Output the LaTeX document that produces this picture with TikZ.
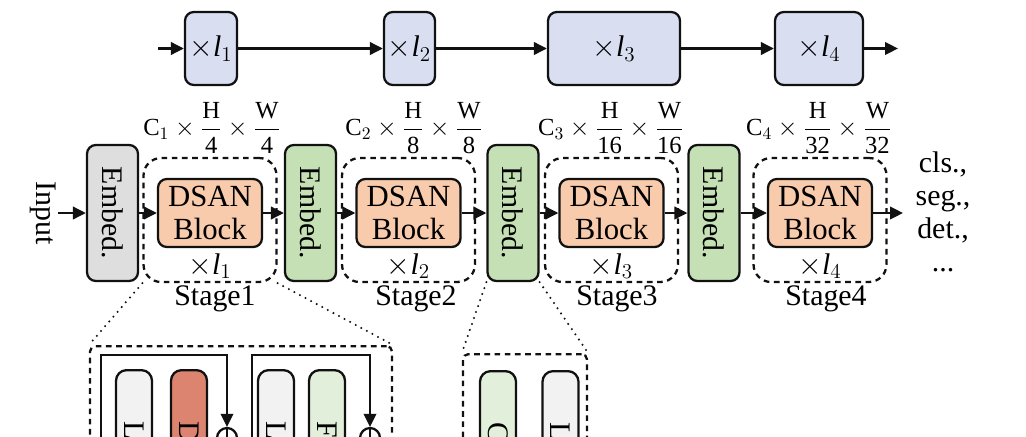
\documentclass[tikz,border=0pt]{standalone}
\usepackage{amsmath}
\usepackage{fontspec}
\setmainfont{Liberation Serif}
\usetikzlibrary{arrows.meta}
\definecolor{ink}{HTML}{111111}
\definecolor{repfill}{HTML}{D9DFF1}
\definecolor{embgray}{HTML}{DEDEDE}
\definecolor{embgreen}{HTML}{C5E0B4}
\definecolor{dsanfill}{HTML}{F8CBAD}
\definecolor{lngray}{HTML}{F2F2F2}
\definecolor{attnred}{HTML}{DD8471}
\definecolor{ffngreen}{HTML}{E2EFDA}
\newcommand{\reps}[1]{$\times$\textit{l}$_{#1}$}
\newcommand{\dims}[3]{$\text{C}_{#1}\times\dfrac{\text{H}}{\text{#2}}\times\dfrac{\text{W}}{\text{#3}}$}

\begin{document}
\begin{tikzpicture}[x=0.02cm, y=-0.02cm, font=\fontsize{17}{18.7}\selectfont, every node/.style={align=center},
    repbox/.style={draw=ink, line width=1.3pt, rounded corners=5pt, fill=repfill, minimum height=1.46cm, inner sep=0pt},
    embbox/.style={draw=ink, line width=1.3pt, rounded corners=5pt, minimum width=1.02cm, minimum height=2.72cm, inner sep=0pt},
    dsanbox/.style={draw=ink, line width=1.3pt, rounded corners=5pt, fill=dsanfill, minimum width=2.08cm, minimum height=1.36cm, inner sep=0pt, font=\fontsize{17.5}{19.3}\selectfont},
    stagebox/.style={draw=ink, line width=1.3pt, dash pattern=on 3.2pt off 2.6pt, rounded corners=10pt, minimum width=2.66cm, minimum height=2.48cm},
    zoombox/.style={draw=ink, line width=1.3pt, dash pattern=on 3.2pt off 2.6pt, rounded corners=3pt, anchor=north, minimum height=2.8cm},
    lowbox/.style={draw=ink, line width=1.3pt, rounded corners=6pt, minimum width=0.72cm, minimum height=3cm, anchor=north},
    lowtxt/.style={anchor=north, inner sep=0pt},
    replbl/.style={inner sep=1pt},
    addop/.style={draw=ink, line width=1.3pt, circle, minimum size=0.4cm, inner sep=0pt, fill=white,
      path picture={\draw[line width=1.3pt] (path picture bounding box.north) -- (path picture bounding box.south) (path picture bounding box.west) -- (path picture bounding box.east);}},
    flow/.style={-{Triangle[length=2.6mm,width=2.5mm]}, line width=1.4pt, draw=ink},
    zoomline/.style={line width=1.3pt, line cap=round, dash pattern=on 0pt off 3.6pt, draw=ink}]
  \useasboundingbox (0,0) rectangle (1026,436);
  \clip (0,0) rectangle (1026,436);

  \coordinate (topin) at (158,48.5);
  \coordinate (topout) at (898,48.5);
  \node[repbox, minimum width=1.04cm] (r1) at (211,48.5) {\reps{1}};
  \node[repbox, minimum width=1.02cm] (r2) at (409.5,48.5) {\reps{2}};
  \node[repbox, minimum width=2.64cm] (r3) at (614,48.5) {\reps{3}};
  \node[repbox, minimum width=1.76cm] (r4) at (819,48.5) {\reps{4}};
  \draw[flow] (topin) -- (r1);
  \draw[flow] (r1) -- (r2);
  \draw[flow] (r2) -- (r3);
  \draw[flow] (r3) -- (r4);
  \draw[flow] (r4) -- (topout);

  \node[font=\fontsize{14}{16}\selectfont] (d1) at (212,128) {\dims{1}{4}{4}};
  \node[font=\fontsize{14}{16}\selectfont] (d2) at (414,128) {\dims{2}{8}{8}};
  \node[font=\fontsize{14}{16}\selectfont] (d3) at (611,128) {\dims{3}{16}{16}};
  \node[font=\fontsize{14}{16}\selectfont] (d4) at (819,128) {\dims{4}{32}{32}};

  \node[stagebox] (st1) at (210,220) {};
  \node[stagebox] (st2) at (408.5,220) {};
  \node[stagebox] (st3) at (611.5,220) {};
  \node[stagebox] (st4) at (820,220) {};

  \node (inp) at (43,213) {\rotatebox{-90}{Input}};
  \coordinate (in) at (58,213);
  \coordinate (out) at (903,213);
  \node[embbox, fill=embgray] (emb1) at (112.5,213) {\rotatebox{-90}{Embed.}};
  \node[embbox, fill=embgreen] (emb2) at (310.5,213) {\rotatebox{-90}{Embed.}};
  \node[embbox, fill=embgreen] (emb3) at (513,213) {\rotatebox{-90}{Embed.}};
  \node[embbox, fill=embgreen] (emb4) at (714,213) {\rotatebox{-90}{Embed.}};
  \node[dsanbox] (ds1) at (210,213) {DSAN\\Block};
  \node[dsanbox] (ds2) at (408.5,213) {DSAN\\Block};
  \node[dsanbox] (ds3) at (611.5,213) {DSAN\\Block};
  \node[dsanbox] (ds4) at (820,213) {DSAN\\Block};
  \draw[flow] (in) -- (emb1);
  \draw[flow] (emb1) -- (ds1);
  \draw[flow] (ds1) -- (emb2);
  \draw[flow] (emb2) -- (ds2);
  \draw[flow] (ds2) -- (emb3);
  \draw[flow] (emb3) -- (ds3);
  \draw[flow] (ds3) -- (emb4);
  \draw[flow] (emb4) -- (ds4);
  \draw[flow] (ds4) -- (out);
  \node (task) at (943,212) {cls.,\\seg.,\\det.,\\...};

  \node[replbl] (n1) at (210,266) {\reps{1}};
  \node[replbl] (n2) at (408.5,266) {\reps{2}};
  \node[replbl] (n3) at (611.5,266) {\reps{3}};
  \node[replbl] (n4) at (820,266) {\reps{4}};
  \node (s1) at (215,299) {Stage1};
  \node (s2) at (416,299) {Stage2};
  \node (s3) at (617,299) {Stage3};
  \node (s4) at (826,299) {Stage4};

  \node[zoombox, minimum width=6.04cm] (det1) at (241,345) {};
  \node[zoombox, minimum width=2.48cm] (det2) at (525,353) {};
  \draw[zoomline] (st1.south west) -- (det1.north west);
  \draw[zoomline] (st1.south east) -- (det1.north east);
  \draw[zoomline] (emb3.south west) -- (det2.north west);
  \draw[zoomline] (emb3.south east) -- (det2.north east);

  \node[lowbox, fill=lngray] (ln1) at (134,369) {};
  \node[lowbox, fill=attnred] (dsa) at (189,369) {};
  \node[lowbox, fill=lngray] (ln2) at (276,369) {};
  \node[lowbox, fill=ffngreen] (ffn) at (327,369) {};
  \node[lowbox, fill=ffngreen] (conv) at (498,370) {};
  \node[lowbox, fill=lngray] (ln3) at (560.5,370) {};
  \node[lowtxt] (t1) at ([yshift=-1.04cm]ln1.north) {\rotatebox{-90}{LN}};
  \node[lowtxt] (t2) at ([yshift=-1.04cm]dsa.north) {\rotatebox{-90}{DSA}};
  \node[lowtxt] (t3) at ([yshift=-1.04cm]ln2.north) {\rotatebox{-90}{LN}};
  \node[lowtxt] (t4) at ([yshift=-1.04cm]ffn.north) {\rotatebox{-90}{FFN}};
  \node[lowtxt] (t5) at ([yshift=-1.04cm]conv.north) {\rotatebox{-90}{Conv}};
  \node[lowtxt] (t6) at ([yshift=-1.04cm]ln3.north) {\rotatebox{-90}{LN}};

  \node[addop] (add1) at (227,438) {};
  \node[addop] (add2) at (370,438) {};
  \coordinate (res1) at (101,470);
  \coordinate (turn1) at (227,355);
  \coordinate (res2) at (252,470);
  \coordinate (turn2) at (370,355);
  \draw[flow, line width=1.2pt] (res1) |- (turn1) -- (add1);
  \draw[flow, line width=1.2pt] (res2) |- (turn2) -- (add2);
\end{tikzpicture}
\end{document}
